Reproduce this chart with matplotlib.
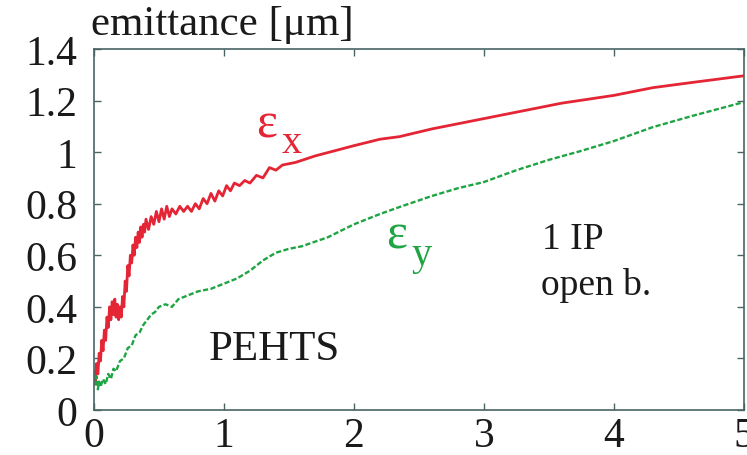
import numpy as np
import matplotlib
matplotlib.use("Agg")
import matplotlib.pyplot as plt

plt.rcParams['font.family'] = ['Liberation Serif', 'DejaVu Serif']

# horizontal emittance (noisy start, smooth tail)
ex_t = [0.00, 0.01, 0.02, 0.03, 0.04, 0.05, 0.06, 0.07, 0.08, 0.09,
        0.10, 0.11, 0.12, 0.13, 0.14, 0.15, 0.16, 0.17, 0.18, 0.19,
        0.20, 0.21, 0.22, 0.23, 0.24, 0.25, 0.26, 0.27, 0.28, 0.29,
        0.30, 0.31, 0.32, 0.33, 0.34, 0.35, 0.36, 0.37, 0.38, 0.39,
        0.40, 0.42, 0.44, 0.46, 0.48, 0.50, 0.52, 0.54, 0.56, 0.58,
        0.60, 0.63, 0.66, 0.69, 0.72, 0.75, 0.78, 0.81, 0.84, 0.87,
        0.90, 0.93, 0.96, 0.99, 1.02, 1.05, 1.08, 1.12, 1.16, 1.20,
        1.25, 1.30, 1.35, 1.40, 1.45, 1.55, 1.70, 1.85, 2.00, 2.20,
        2.35, 2.60, 2.80, 3.00, 3.30, 3.60, 3.80, 4.00, 4.30, 4.60, 5.00]
ex = [0.15, 0.10, 0.18, 0.14, 0.22, 0.19, 0.27, 0.23, 0.31, 0.27,
      0.36, 0.32, 0.40, 0.35, 0.42, 0.37, 0.43, 0.36, 0.41, 0.35,
      0.40, 0.36, 0.44, 0.40, 0.50, 0.46, 0.56, 0.52, 0.60, 0.57,
      0.64, 0.60, 0.67, 0.63, 0.69, 0.65, 0.71, 0.67, 0.72, 0.69,
      0.74, 0.70, 0.75, 0.72, 0.77, 0.73, 0.78, 0.74, 0.79, 0.75,
      0.78, 0.76, 0.79, 0.77, 0.79, 0.77, 0.80, 0.78, 0.82, 0.80,
      0.84, 0.81, 0.85, 0.83, 0.87, 0.85, 0.88, 0.87, 0.89, 0.88,
      0.91, 0.90, 0.94, 0.93, 0.95, 0.96, 0.985, 1.005, 1.025, 1.05,
      1.06, 1.09, 1.11, 1.13, 1.16, 1.19, 1.205, 1.22, 1.25, 1.27, 1.296]

# vertical emittance
ey_t = [0.00, 0.01, 0.02, 0.03, 0.04, 0.05, 0.07, 0.09, 0.11, 0.13,
        0.15, 0.17, 0.20, 0.23, 0.26, 0.29, 0.32, 0.35, 0.38, 0.41,
        0.44, 0.47, 0.50, 0.55, 0.60, 0.65, 0.70, 0.80, 0.90, 1.00,
        1.10, 1.20, 1.30, 1.40, 1.50, 1.60, 1.80, 2.00, 2.20, 2.35,
        2.60, 2.80, 3.00, 3.25, 3.50, 3.75, 4.00, 4.30, 4.60, 5.00]
ey = [0.14, 0.10, 0.13, 0.08, 0.11, 0.09, 0.12, 0.10, 0.14, 0.12,
      0.16, 0.15, 0.19, 0.20, 0.24, 0.25, 0.29, 0.30, 0.33, 0.35,
      0.37, 0.38, 0.40, 0.41, 0.40, 0.43, 0.44, 0.46, 0.47, 0.49,
      0.51, 0.54, 0.58, 0.61, 0.625, 0.635, 0.67, 0.72, 0.76, 0.787,
      0.83, 0.86, 0.884, 0.93, 0.97, 1.005, 1.043, 1.097, 1.14, 1.194]

xticks = [0, 1, 2, 3, 4, 5]
yticks = [0, 0.2, 0.4, 0.6, 0.8, 1.0, 1.2, 1.4]
ytick_labels = ['0', '0.2', '0.4', '0.6', '0.8', '1', '1.2', '1.4']

red = '#e42535'
green = '#1fa443'
frame = '#4a6464'
ink = '#1a1a1a'

fig = plt.figure(figsize=(7.47, 4.56), dpi=100)
ax = fig.add_axes([0.1258, 0.0987, 0.870, 0.7917])

ax.plot(ex_t, ex, color=red, lw=2.0)
line, = ax.plot(ey_t, ey, color=green, lw=1.7)
line.set_dashes([2.2, 1.0])

ax.set_xlim(0, 5)
ax.set_ylim(0, 1.4)
ax.set_xticks(xticks)
ax.set_xticklabels([str(t) for t in xticks])
ax.set_yticks(yticks)
ax.set_yticklabels(ytick_labels)
ax.tick_params(direction='in', length=5, width=1, color=frame,
               labelsize=30, labelcolor=ink, top=True, right=True)
ax.tick_params(axis='y', pad=12)
ax.tick_params(axis='x', pad=5)
for s in ax.spines.values():
    s.set_color(frame)
    s.set_linewidth(1.2)

fig.text(0.122, 0.923, 'emittance [\u03bcm]', fontsize=31, color=ink)

ax.text(1.246, 1.062, '\u03b5', fontsize=36, color=red)
ax.text(1.44, 1.0, 'x', fontsize=29, color=red)
ax.text(2.246, 0.632, '\u03b5', fontsize=36, color=green)
ax.text(2.44, 0.566, 'y', fontsize=29, color=green)

ax.text(0.88, 0.198, 'PEHTS', fontsize=31, color=ink)
ax.text(3.45, 0.63, '1 IP', fontsize=27, color=ink)
ax.text(3.44, 0.45, 'open b.', fontsize=27, color=ink)

fig.savefig('out.png', dpi=100)
